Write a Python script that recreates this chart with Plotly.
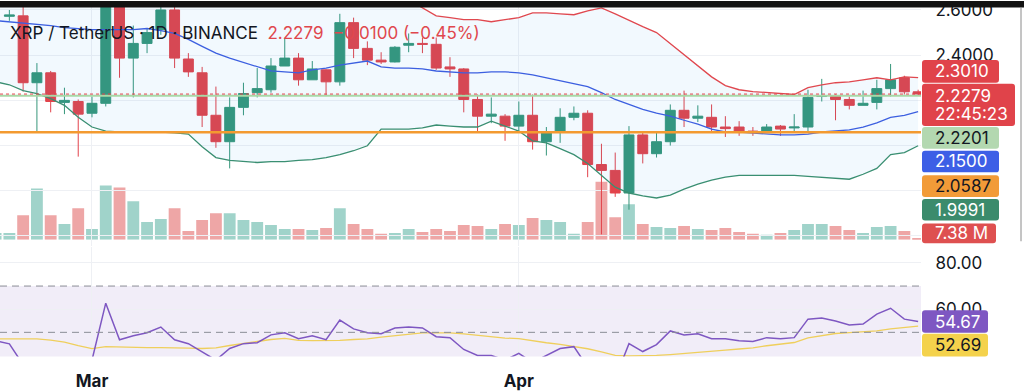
import plotly.graph_objects as go
import pandas as pd

# ---------------- data ----------------
dates = pd.date_range("2025-02-22", "2025-04-30", freq="D")

open_ = [2.620, 2.572, 2.574, 2.278, 2.322, 2.191, 2.195, 2.143, 2.187, 2.850,
         2.387, 2.452, 2.513, 2.600, 2.383, 2.322, 2.134, 2.017, 2.169, 2.234,
         2.247, 2.352, 2.387, 2.291, 2.335, 2.282, 2.544, 2.430, 2.378, 2.370,
         2.444, 2.452, 2.448, 2.348, 2.339, 2.204, 2.130, 2.130, 2.086, 2.134,
         2.017, 2.060, 2.125, 2.143, 1.916, 1.890, 1.790, 2.047, 1.964, 2.017,
         2.156, 2.121, 2.125, 2.082, 2.082, 2.064, 2.060, 2.086, 2.078, 2.082,
         2.217, 2.217, 2.204, 2.178, 2.191, 2.252, 2.300, 2.2379]
high = [2.700, 2.600, 2.640, 2.365, 2.330, 2.256, 2.204, 2.217, 2.950, 2.900,
        2.531, 2.518, 2.660, 2.660, 2.409, 2.348, 2.261, 2.213, 2.278, 2.343,
        2.387, 2.474, 2.409, 2.374, 2.337, 2.583, 2.566, 2.461, 2.413, 2.440,
        2.496, 2.478, 2.478, 2.391, 2.343, 2.226, 2.213, 2.139, 2.195, 2.226,
        2.082, 2.165, 2.173, 2.156, 2.008, 1.969, 2.086, 2.056, 2.060, 2.182,
        2.243, 2.178, 2.182, 2.130, 2.108, 2.082, 2.095, 2.091, 2.139, 2.247,
        2.295, 2.226, 2.217, 2.243, 2.291, 2.361, 2.309, 2.247]
low = [2.570, 2.552, 2.239, 2.060, 2.147, 2.139, 1.951, 2.125, 2.173, 2.300,
       2.213, 2.409, 2.490, 2.343, 2.304, 2.082, 1.990, 1.899, 2.134, 2.213,
       2.234, 2.352, 2.265, 2.291, 2.221, 2.265, 2.387, 2.356, 2.361, 2.368,
       2.413, 2.409, 2.335, 2.304, 2.147, 2.060, 2.099, 2.021, 2.064, 1.982,
       1.956, 2.012, 2.112, 1.860, 1.607, 1.773, 1.716, 1.921, 1.947, 2.000,
       2.082, 2.104, 2.060, 2.038, 2.043, 2.043, 2.060, 2.043, 2.060, 2.060,
       2.195, 2.112, 2.160, 2.178, 2.160, 2.217, 2.226, 2.221]
close = [2.660, 2.578, 2.278, 2.322, 2.195, 2.200, 2.139, 2.187, 2.850, 2.387,
         2.452, 2.500, 2.600, 2.387, 2.326, 2.134, 2.017, 2.169, 2.230, 2.252,
         2.352, 2.387, 2.291, 2.339, 2.282, 2.544, 2.430, 2.378, 2.370, 2.435,
         2.452, 2.448, 2.343, 2.339, 2.204, 2.130, 2.139, 2.086, 2.134, 2.017,
         2.056, 2.125, 2.143, 1.916, 1.890, 1.790, 2.047, 1.964, 2.017, 2.156,
         2.121, 2.130, 2.082, 2.075, 2.060, 2.058, 2.082, 2.073, 2.082, 2.213,
         2.221, 2.204, 2.178, 2.187, 2.252, 2.291, 2.2379, 2.2279]
volume_m = [28, 28, 100, 208, 100, 64, 128, 44, 220, 212,
            156, 72, 84, 128, 36, 80, 108, 108, 80, 72,
            60, 44, 44, 40, 48, 128, 64, 44, 24, 28,
            44, 32, 44, 36, 60, 56, 44, 64, 60, 88,
            80, 72, 24, 72, 236, 92, 144, 64, 52, 48,
            56, 44, 40, 48, 32, 24, 20, 28, 40, 64,
            64, 56, 40, 28, 52, 56, 36, 7.38]

bb_upper = [2.92, 2.90, 2.89, 2.88, 2.87, 2.87, 2.90, 2.93, 2.95, 2.96,
            2.96, 2.96, 2.96, 2.95, 2.92, 2.88, 2.84, 2.82, 2.80, 2.78,
            2.76, 2.75, 2.74, 2.73, 2.73, 2.73, 2.72, 2.72, 2.69, 2.67,
            2.645, 2.609, 2.574, 2.566, 2.557, 2.557, 2.548, 2.557, 2.566, 2.587,
            2.587, 2.583, 2.579, 2.596, 2.609, 2.583, 2.553, 2.526, 2.500, 2.452,
            2.400, 2.352, 2.304, 2.265, 2.247, 2.239, 2.234, 2.230, 2.226, 2.256,
            2.269, 2.278, 2.282, 2.291, 2.300, 2.291, 2.304, 2.3010]
bb_basis = [2.553, 2.548, 2.544, 2.537, 2.531, 2.522, 2.518, 2.513, 2.513, 2.513,
            2.513, 2.518, 2.509, 2.496, 2.470, 2.439, 2.409, 2.387, 2.369, 2.348,
            2.330, 2.326, 2.322, 2.335, 2.343, 2.356, 2.365, 2.374, 2.348, 2.343,
            2.343, 2.339, 2.330, 2.326, 2.322, 2.322, 2.326, 2.326, 2.322, 2.313,
            2.300, 2.287, 2.274, 2.261, 2.234, 2.204, 2.182, 2.160, 2.143, 2.130,
            2.112, 2.095, 2.073, 2.060, 2.060, 2.056, 2.051, 2.047, 2.047, 2.051,
            2.060, 2.064, 2.069, 2.082, 2.100, 2.125, 2.134, 2.1500]
bb_lower = [2.282, 2.269, 2.243, 2.230, 2.208, 2.178, 2.125, 2.082, 2.064, 2.060,
            2.060, 2.060, 2.060, 2.056, 2.051, 1.995, 1.947, 1.934, 1.929, 1.925,
            1.929, 1.929, 1.934, 1.938, 1.947, 1.960, 1.977, 1.999, 2.073, 2.073,
            2.073, 2.078, 2.091, 2.086, 2.082, 2.082, 2.108, 2.086, 2.064, 2.021,
            2.012, 1.986, 1.960, 1.921, 1.868, 1.816, 1.790, 1.777, 1.768, 1.781,
            1.807, 1.829, 1.847, 1.860, 1.868, 1.868, 1.868, 1.868, 1.868, 1.864,
            1.860, 1.855, 1.851, 1.873, 1.899, 1.960, 1.969, 1.9991]

rsi = [46.4, 45.0, 36.0, 38.0, 35.0, 36.0, 33.0, 38.0, 62.6, 46.8,
       48.5, 49.8, 52.3, 46.8, 45.1, 41.3, 38.0, 43.0, 45.1, 45.5,
       48.9, 49.8, 47.2, 48.5, 46.8, 55.3, 51.5, 49.8, 49.4, 51.9,
       52.3, 51.9, 48.1, 47.7, 42.6, 40.0, 40.0, 38.0, 40.9, 37.0,
       40.1, 43.0, 43.8, 35.0, 33.0, 30.0, 45.1, 41.7, 44.7, 50.6,
       48.9, 49.4, 47.2, 47.2, 46.4, 46.0, 47.7, 47.2, 47.7, 55.7,
       56.2, 54.9, 53.2, 53.6, 57.9, 60.4, 55.7, 54.67]
rsi_ma = [47.2, 47.2, 47.2, 47.2, 46.6, 45.8, 44.3, 43.0, 43.8, 43.6,
          43.4, 43.4, 43.4, 43.4, 43.2, 43.0, 43.3, 44.3, 45.2, 45.9,
          46.9, 47.4, 46.5, 46.4, 46.4, 46.5, 46.9, 47.2, 47.9, 48.6,
          49.3, 49.8, 49.8, 49.8, 49.3, 48.6, 48.0, 47.5, 47.3, 46.3,
          45.5, 44.8, 44.0, 42.9, 41.6, 40.0, 39.8, 39.8, 40.0, 40.4,
          40.8, 41.3, 41.8, 42.3, 42.8, 43.3, 44.2, 44.9, 45.6, 47.6,
          48.5, 49.5, 49.9, 50.2, 50.6, 51.5, 52.1, 52.69]

level_orange = 2.0587
level_green = 2.2201
price_ticks = [1.6, 1.8, 2.0, 2.2, 2.4, 2.6]
price_tick_text = ["", "", "", "", "2.4000", "2.6000"]   # lower ones sit behind the labels
rsi_ticks = [60, 80]
rsi_tick_text = ["60.00", "80.00"]
rsi_levels_dashed = [70, 50]
rsi_band = (30, 70)
month_ticks = ["2025-03-01", "2025-04-01"]
month_labels = ["<b>Mar</b>", "<b>Apr</b>"]

# ---------------- styling ----------------
W, H = 1024, 391
UP, DOWN = "#36967a", "#e2434b"
VOL_UP, VOL_DOWN = "#a0d3ca", "#eea6a6"
TXT = "#131722"
GRID = "#eef0f4"
FONT = "Inter"
X_RANGE = ["2025-02-22 07:40", "2025-04-30 05:00"]
PLOT_R = 921 / W


def px(x):
    return x / W


def py(y):
    return 1 - y / H


def rrect(x0, y0, x1, y1, r=3):
    return (f"M {px(x0 + r)},{py(y0)} L {px(x1 - r)},{py(y0)} "
            f"Q {px(x1)},{py(y0)} {px(x1)},{py(y0 + r)} "
            f"L {px(x1)},{py(y1 - r)} Q {px(x1)},{py(y1)} {px(x1 - r)},{py(y1)} "
            f"L {px(x0 + r)},{py(y1)} Q {px(x0)},{py(y1)} {px(x0)},{py(y1 - r)} "
            f"L {px(x0)},{py(y0 + r)} Q {px(x0)},{py(y0)} {px(x0 + r)},{py(y0)} Z")


fig = go.Figure()

# volume (bottom subplot layer)
vol_colors = [VOL_UP if c >= o else VOL_DOWN for o, c in zip(open_, close)]
fig.add_trace(go.Bar(x=dates, y=volume_m, marker=dict(color=vol_colors, line=dict(width=0)),
                     width=0.86 * 86400000, xaxis="x", yaxis="y", hoverinfo="skip"))

# Bollinger bands
fig.add_trace(go.Scatter(x=dates, y=bb_upper, mode="lines", line=dict(color="#e0484f", width=1.3),
                         xaxis="x", yaxis="y2", hoverinfo="skip"))
fig.add_trace(go.Scatter(x=dates, y=bb_lower, mode="lines", line=dict(color="#3a8f72", width=1.3),
                         fill="tonexty", fillcolor="rgba(33,150,243,0.06)",
                         xaxis="x", yaxis="y2", hoverinfo="skip"))
fig.add_trace(go.Scatter(x=dates, y=bb_basis, mode="lines", line=dict(color="#3c5fe0", width=1.3),
                         xaxis="x", yaxis="y2", hoverinfo="skip"))

# candles
fig.add_trace(go.Candlestick(x=dates, open=open_, high=high, low=low, close=close,
                             increasing=dict(line=dict(color=UP, width=1), fillcolor=UP),
                             decreasing=dict(line=dict(color=DOWN, width=1), fillcolor=DOWN),
                             xaxis="x", yaxis="y2", hoverinfo="skip"))

# RSI
fig.add_trace(go.Scatter(x=dates, y=rsi_ma, mode="lines", line=dict(color="#efcf5c", width=1.3),
                         xaxis="x2", yaxis="y3", hoverinfo="skip"))
fig.add_trace(go.Scatter(x=dates, y=rsi, mode="lines", line=dict(color="#7e57c2", width=1.5),
                         xaxis="x2", yaxis="y3", hoverinfo="skip"))

shapes = []
# RSI band + dashed levels
shapes.append(dict(type="rect", xref="x2", yref="y3", x0=X_RANGE[0], x1=X_RANGE[1],
                   y0=rsi_band[0], y1=rsi_band[1], fillcolor="rgba(126,87,194,0.11)",
                   line=dict(width=0), layer="below"))
for lv in rsi_levels_dashed:
    shapes.append(dict(type="line", xref="x2", yref="y3", x0=X_RANGE[0], x1=X_RANGE[1],
                       y0=lv, y1=lv, line=dict(color="#8a8d96", width=1, dash="7px,5px"),
                       layer="above"))
# price horizontal lines
shapes.append(dict(type="line", xref="x", yref="y2", x0=X_RANGE[0], x1=X_RANGE[1],
                   y0=level_green, y1=level_green, line=dict(color="#a8d8a6", width=2), layer="above"))
shapes.append(dict(type="line", xref="x", yref="y2", x0=X_RANGE[0], x1=X_RANGE[1],
                   y0=close[-1], y1=close[-1], line=dict(color="#e2434b", width=1, dash="dot"),
                   layer="above"))
shapes.append(dict(type="line", xref="x", yref="y2", x0=X_RANGE[0], x1=X_RANGE[1],
                   y0=level_orange, y1=level_orange, line=dict(color="#f39a30", width=2.5),
                   layer="above"))
# top black strip and right frame line
shapes.append(dict(type="rect", xref="paper", yref="paper", x0=0, x1=1, y0=py(6.5), y1=1,
                   fillcolor="#121212", line=dict(width=0), layer="above"))
shapes.append(dict(type="line", xref="paper", yref="paper", x0=px(1021), x1=px(1021),
                   y0=py(244), y1=py(7), line=dict(color="#8a8a8a", width=1), layer="above"))

annotations = []
# label boxes on the scales
boxes = [
    (f"{bb_upper[-1]:.4f}", 922, 60, 999, 83, "#e0434a", "white"),
    (None, 922, 84, 1015, 127, "#e0434a", "white"),
    (f"{level_green:.4f}", 922, 128, 999, 150, "#b3d8b0", TXT),
    (f"{bb_basis[-1]:.4f}", 922, 152, 999, 174, "#3d5fe6", "white"),
    (f"{level_orange:.4f}", 922, 177, 999, 199, "#f29b38", TXT),
    (f"{bb_lower[-1]:.4f}", 922, 201, 999, 223, "#3b8b6c", "white"),
    (f"{volume_m[-1]:.2f} M", 922, 226, 996, 246, "#de5050", "white"),
    (f"{rsi[-1]:.2f}", 922, 314, 988, 337, "#7e57c2", "white"),
    (f"{rsi_ma[-1]:.2f}", 922, 338, 988, 361, "#f4d24c", TXT),
]
for text, x0, y0, x1, y1, bg, fg in boxes:
    shapes.append(dict(type="path", xref="paper", yref="paper", path=rrect(x0, y0, x1, y1),
                       fillcolor=bg, line=dict(width=0), layer="above"))
    if text:
        annotations.append(dict(xref="paper", yref="paper", x=px(933), y=py((y0 + y1) / 2),
                                xanchor="left", yanchor="middle", showarrow=False, text=text,
                                font=dict(family=FONT, size=17, color=fg)))
annotations.append(dict(xref="paper", yref="paper", x=px(933), y=py(96), xanchor="left",
                        yanchor="middle", showarrow=False, text=f"{close[-1]:.4f}",
                        font=dict(family=FONT, size=17, color="white")))
annotations.append(dict(xref="paper", yref="paper", x=px(933), y=py(115), xanchor="left",
                        yanchor="middle", showarrow=False, text="22:45:23",
                        font=dict(family=FONT, size=17, color="white")))

# legend text
chg = close[-1] - close[-2]
pct = chg / close[-2] * 100
annotations.append(dict(xref="paper", yref="paper", x=px(8), y=py(32), xanchor="left",
                        yanchor="middle", showarrow=False,
                        text=("XRP / TetherUS · 1D · BINANCE  "
                              f"<span style='color:#e0474d'>{close[-1]:.4f}  "
                              f"{'−' if chg < 0 else '+'}{abs(chg):.4f} "
                              f"({'−' if chg < 0 else '+'}{abs(pct):.2f}%)</span>"),
                        font=dict(family=FONT, size=17, color=TXT)))

fig.update_layout(
    width=W, height=H, margin=dict(l=0, r=0, t=0, b=0),
    paper_bgcolor="white", plot_bgcolor="rgba(0,0,0,0)",
    showlegend=False, boxgap=0.28, boxgroupgap=0,
    shapes=shapes, annotations=annotations,
    xaxis=dict(domain=[0, PLOT_R], anchor="y2", range=X_RANGE, type="date",
               tickvals=month_ticks, showticklabels=False, showgrid=True, gridcolor=GRID,
               zeroline=False, showline=False, rangeslider=dict(visible=False), fixedrange=True),
    xaxis2=dict(domain=[0, PLOT_R], anchor="y3", range=X_RANGE, type="date", matches="x",
                tickvals=month_ticks, ticktext=month_labels, showgrid=True, gridcolor=GRID,
                ticks="outside", ticklen=9, tickcolor="rgba(0,0,0,0)",
                tickfont=dict(family=FONT, size=17, color=TXT), zeroline=False, showline=False),
    yaxis=dict(domain=[py(242.5), py(142.5)], range=[0, 400], anchor="x",
               showgrid=False, showticklabels=False, zeroline=False),
    yaxis2=dict(domain=[py(249), 1], range=[1.5547, 2.6397], anchor="x", side="right",
                tickvals=price_ticks, ticktext=price_tick_text, showgrid=True, gridcolor=GRID,
                ticks="outside", ticklen=10, tickcolor="rgba(0,0,0,0)", ticklabeloverflow="allow",
                tickfont=dict(family=FONT, size=17, color=TXT), zeroline=False),
    yaxis3=dict(domain=[py(361), py(250)], range=[39.57, 86.81], anchor="x2", side="right",
                tickvals=rsi_ticks, ticktext=rsi_tick_text, showgrid=True, gridcolor=GRID,
                ticks="outside", ticklen=10, tickcolor="rgba(0,0,0,0)", ticklabeloverflow="allow",
                tickfont=dict(family=FONT, size=17, color=TXT), zeroline=False),
)

fig.write_html("out.html")
